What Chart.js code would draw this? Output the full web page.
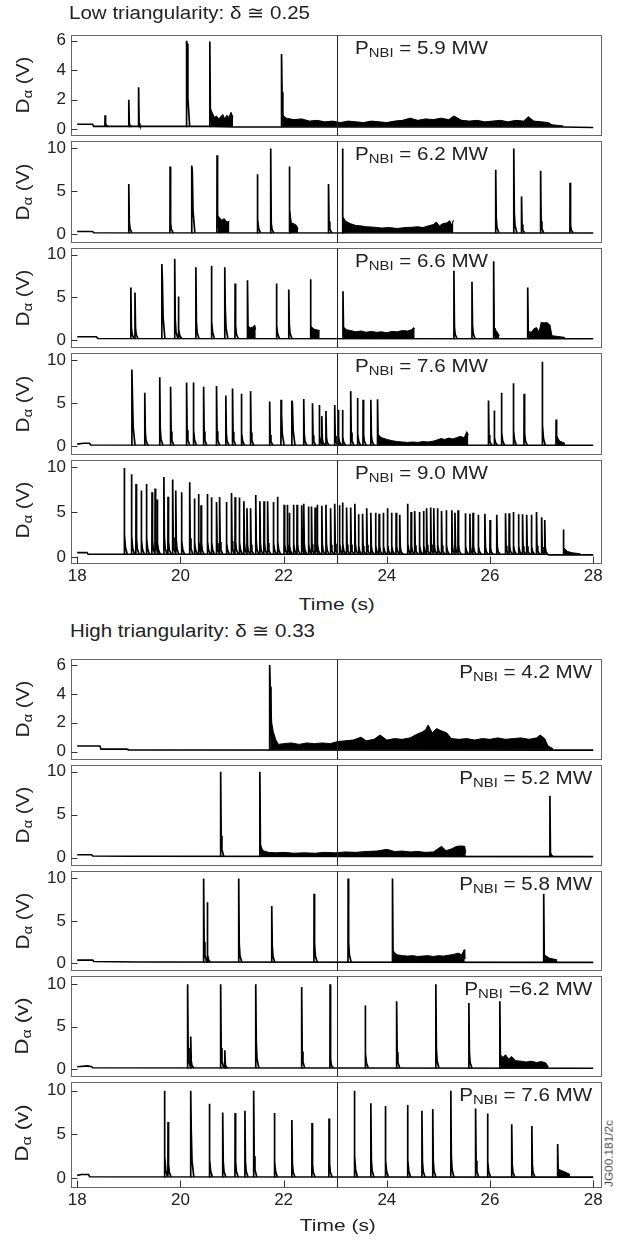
<!DOCTYPE html>
<html lang="en">
<head>
<meta charset="UTF-8">
<title>D-alpha traces at low and high triangularity</title>
<script src="https://cdn.jsdelivr.net/npm/chart.js"></script>
<style>
  body { margin: 0; background: #fff; }
  #fig { position: relative; width: 617px; height: 1240px; overflow: hidden;
         font-family: "Liberation Sans", Arial, sans-serif; color: #222; }
  #fig canvas { position: absolute; left: 0; }
  .lbl { position: absolute; white-space: nowrap; line-height: 1; }
  .sub { position: relative; }
</style>
</head>
<body>
<div id="fig"></div>
<script>
// ---- axis ticks ----
const xTicks = [18, 20, 22, 24, 26, 28];
const ticksSix = [0, 2, 4, 6];
const ticksTen = [0, 5, 10];
const tMarker = 23.03;   // vertical reference line (s)

// ---- low triangularity ----
// baseline [t, V], spikes [t, peak, tail], grass bursts [t, top]
const base59 = [[18.0, 0.34], [18.3, 0.34], [18.32, 0.19], [20.55, 0.19], [21.03, 0.15], [27.4, 0.15], [28.0, 0.12]];
const spikes59 = [[18.54, 0.95, 0.4], [19.0, 2.0, 0.4], [19.19, 2.85, 0.4], [20.12, 6.0, 5.8], [20.57, 5.95, 1.4], [21.96, 5.1, 2.5]];
const grass59 = [
  [[20.58, 1.4], [20.62, 1.1], [20.66, 0.8], [20.7, 0.9], [20.74, 0.7], [20.78, 0.85], [20.82, 1.0], [20.86, 0.7], [20.9, 0.95], [20.94, 0.8], [20.98, 1.15], [21.02, 0.8]],
  [[21.97, 1.0], [22.05, 0.75], [22.2, 0.65], [22.35, 0.7], [22.5, 0.55], [22.65, 0.6], [22.8, 0.5], [22.95, 0.55], [23.1, 0.45], [23.25, 0.55], [23.4, 0.5], [23.55, 0.45], [23.7, 0.55], [23.85, 0.5], [24.0, 0.45], [24.15, 0.55], [24.3, 0.6], [24.45, 0.75], [24.6, 0.6], [24.75, 0.7], [24.9, 0.65], [25.05, 0.75], [25.2, 0.65], [25.3, 0.9], [25.45, 0.6], [25.6, 0.55], [25.75, 0.6], [25.9, 0.5], [26.05, 0.55], [26.2, 0.6], [26.35, 0.5], [26.5, 0.6], [26.65, 0.55], [26.74, 0.85], [26.85, 0.55], [27.0, 0.5], [27.13, 0.45], [27.2, 0.3], [27.42, 0.22]]
];

const base62 = [[18.0, 0.3], [18.3, 0.3], [18.32, 0.15], [28.0, 0.12]];
const spikes62 = [[19.0, 5.85], [19.8, 7.9, 1.3], [20.22, 8.0, 7.4], [20.71, 9.2, 2.2], [21.49, 7.0], [21.75, 10.0, 1.3], [22.11, 7.9, 2.7], [22.87, 5.85], [23.14, 10.0, 2.0], [26.11, 7.5], [26.46, 10.0], [26.61, 4.4], [26.98, 7.4, 1.5], [27.55, 6.0, 1.0]];
const grass62 = [
  [[20.72, 2.2], [20.76, 1.9], [20.8, 1.6], [20.85, 1.8], [20.9, 1.4], [20.95, 1.5]],
  [[22.12, 2.7], [22.15, 1.3], [22.2, 1.2], [22.25, 1.0], [22.28, 0.6]],
  [[23.15, 2.0], [23.2, 1.5], [23.3, 1.2], [23.4, 1.0], [23.5, 0.95], [23.6, 0.85], [23.75, 0.8], [23.9, 0.7], [24.05, 0.75], [24.2, 0.65], [24.35, 0.75], [24.5, 0.8], [24.6, 0.85], [24.7, 0.75], [24.8, 0.95], [24.9, 1.1], [24.96, 1.4], [25.02, 0.95], [25.08, 1.2], [25.16, 1.3], [25.22, 1.55], [25.26, 1.0], [25.29, 1.65]]
];

const base66 = [[18.0, 0.37], [18.37, 0.37], [18.4, 0.18], [28.0, 0.15]];
const spikes66 = [[19.04, 6.15], [19.12, 5.55], [19.64, 8.9, 7.2], [19.89, 9.5], [19.96, 5.1], [20.3, 8.5], [20.6, 8.7], [20.86, 8.5, 3.6], [21.06, 6.6], [21.3, 7.0, 1.6], [21.86, 6.6], [22.1, 5.9, 1.9], [22.52, 7.1, 1.6], [23.15, 5.7, 1.3], [25.3, 8.1, 1.5], [25.65, 6.8], [26.07, 9.2, 1.4], [26.73, 6.15, 1.0]];
const grass66 = [
  [[21.31, 1.6], [21.35, 1.4], [21.4, 1.5], [21.44, 1.75], [21.46, 1.2]],
  [[22.53, 1.6], [22.58, 1.3], [22.63, 1.2], [22.7, 1.1]],
  [[23.16, 1.5], [23.22, 1.2], [23.3, 1.1], [23.4, 0.95], [23.5, 1.05], [23.6, 0.9], [23.7, 1.0], [23.8, 0.9], [23.9, 0.95], [24.0, 0.85], [24.1, 1.0], [24.2, 0.95], [24.3, 1.1], [24.4, 1.05], [24.48, 1.2], [24.52, 1.45], [24.54, 1.3]],
  [[26.08, 1.4], [26.13, 1.0], [26.18, 0.5]],
  [[26.74, 1.0], [26.8, 0.9], [26.85, 1.3], [26.9, 1.45], [26.95, 0.9], [26.99, 2.05], [27.05, 2.0], [27.1, 2.05], [27.16, 1.75], [27.2, 0.5], [27.45, 0.3]]
];

const base76 = [[18.0, 0.25], [18.12, 0.36], [18.24, 0.36], [18.26, 0.15], [28.0, 0.12]];
const spikes76 = [[19.06, 8.9, 6.1], [19.31, 6.2], [19.6, 8.0], [19.81, 6.9], [20.12, 7.4], [20.25, 7.4], [20.45, 6.9], [20.7, 7.0], [20.88, 5.9], [21.01, 6.7], [21.18, 6.1], [21.36, 6.4], [21.73, 5.2], [21.95, 5.4, 3.7], [22.16, 5.3, 5.0], [22.39, 5.5], [22.56, 5.0], [22.69, 4.8], [22.74, 3.5], [22.82, 4.1], [22.99, 4.8], [23.06, 4.25], [23.14, 4.2], [23.3, 6.4], [23.43, 5.6], [23.54, 5.4], [23.69, 5.4], [23.82, 5.45, 1.3], [25.97, 5.3], [26.08, 4.15], [26.22, 6.2], [26.45, 7.3], [26.66, 6.1], [27.01, 9.8], [27.28, 3.1, 1.2]];
const grass76 = [
  [[23.83, 1.3], [23.9, 1.0], [24.0, 0.8], [24.1, 0.65], [24.2, 0.55], [24.3, 0.5], [24.4, 0.45], [24.5, 0.5], [24.6, 0.45], [24.7, 0.55], [24.8, 0.5], [24.9, 0.6], [24.98, 0.75], [25.05, 0.9], [25.12, 0.8], [25.2, 0.95], [25.28, 0.85], [25.35, 1.0], [25.42, 1.15], [25.5, 1.0], [25.55, 1.7], [25.58, 1.3]],
  [[27.29, 1.2], [27.35, 0.6], [27.45, 0.35]]
];

const base90 = [[18.0, 0.47], [18.19, 0.47], [18.21, 0.3], [27.1, 0.3], [27.15, 0.22], [28.0, 0.22]];
const spikes90 = [[18.91, 9.9], [19.05, 9.2], [19.14, 8.1], [19.24, 7.4], [19.34, 8.1], [19.45, 7.2], [19.51, 7.6], [19.55, 6.4], [19.68, 8.9], [19.76, 6.7], [19.85, 8.6], [19.91, 7.4], [20.02, 7.2], [20.18, 8.3], [20.27, 6.5], [20.35, 7.0], [20.4, 5.75], [20.52, 7.0], [20.6, 6.65], [20.7, 6.1], [20.76, 6.65], [20.89, 6.1], [20.99, 7.1], [21.06, 6.65], [21.14, 6.6], [21.23, 6.2], [21.29, 5.4], [21.36, 5.4], [21.46, 6.9], [21.54, 6.2], [21.62, 6.2], [21.69, 6.2], [21.8, 6.1], [21.88, 6.7], [22.01, 5.8], [22.07, 5.8], [22.11, 4.9], [22.19, 5.8], [22.26, 5.8], [22.35, 5.75], [22.39, 5.9], [22.48, 5.6], [22.54, 5.6], [22.61, 5.5], [22.65, 5.8], [22.74, 5.7], [22.82, 5.8], [22.91, 5.4], [22.99, 5.9], [23.08, 5.75], [23.14, 6.05], [23.22, 5.5], [23.3, 5.5], [23.38, 5.9], [23.45, 4.75], [23.53, 4.8], [23.61, 5.4], [23.69, 4.9], [23.78, 4.9], [23.85, 4.8], [23.93, 4.9], [24.01, 5.4], [24.09, 4.9], [24.18, 4.9], [24.25, 4.7], [24.4, 5.9], [24.47, 5.0], [24.54, 5.1], [24.63, 5.0], [24.71, 5.1], [24.77, 5.4], [24.85, 5.5], [24.91, 5.4], [24.98, 5.4], [25.06, 5.1], [25.15, 5.2], [25.26, 5.2], [25.32, 4.9], [25.38, 5.2], [25.52, 4.85], [25.61, 4.8], [25.67, 4.9], [25.77, 4.7], [25.9, 4.8], [26.0, 4.1], [26.13, 4.7], [26.3, 4.85], [26.37, 4.85], [26.45, 5.0], [26.55, 4.75], [26.63, 4.75], [26.71, 4.7], [26.8, 4.7], [26.9, 5.0], [27.0, 4.4], [27.06, 4.1], [27.42, 3.05, 1.0]];
const grass90 = [
  [[27.43, 1.0], [27.5, 0.6], [27.6, 0.45], [27.75, 0.35]]
];

// ---- high triangularity ----
const baseH42 = [[18.0, 0.39], [18.44, 0.39], [18.46, 0.17], [18.96, 0.17], [19.0, 0.12], [28.0, 0.1]];
const spikesH42 = [[21.73, 6.0, 4.5]];
const grassH42 = [
  [[21.74, 4.5], [21.77, 2.0], [21.8, 1.37], [21.85, 0.8], [21.9, 0.5], [22.0, 0.55], [22.15, 0.6], [22.3, 0.5], [22.45, 0.6], [22.6, 0.55], [22.75, 0.6], [22.9, 0.55], [23.05, 0.7], [23.2, 0.75], [23.35, 0.8], [23.5, 1.0], [23.6, 0.75], [23.75, 0.85], [23.87, 1.15], [24.0, 0.8], [24.15, 0.9], [24.3, 0.85], [24.45, 0.95], [24.58, 1.2], [24.68, 1.35], [24.75, 1.5], [24.8, 1.85], [24.88, 1.3], [24.96, 1.6], [25.05, 1.45], [25.16, 1.3], [25.25, 0.9], [25.4, 0.85], [25.55, 0.9], [25.7, 0.8], [25.85, 0.9], [26.0, 0.85], [26.15, 0.95], [26.3, 0.85], [26.45, 0.9], [26.6, 0.95], [26.75, 0.85], [26.9, 0.95], [26.97, 1.15], [27.06, 0.9], [27.12, 0.4], [27.22, 0.2]]
];

const baseH52 = [[18.0, 0.33], [18.28, 0.33], [18.3, 0.18], [19.0, 0.15], [28.0, 0.1]];
const spikesH52 = [[20.78, 10.0], [21.54, 10.0, 1.5], [27.16, 7.2, 0.6]];
const grassH52 = [
  [[21.55, 1.5], [21.6, 0.8], [21.7, 0.6], [21.85, 0.55], [22.0, 0.6], [22.2, 0.5], [22.4, 0.55], [22.6, 0.5], [22.8, 0.6], [23.0, 0.55], [23.2, 0.65], [23.4, 0.6], [23.6, 0.7], [23.8, 0.75], [24.0, 0.95], [24.15, 0.7], [24.3, 0.75], [24.45, 0.65], [24.6, 0.7], [24.75, 0.6], [24.9, 0.65], [25.06, 1.3], [25.15, 0.8], [25.25, 1.0], [25.35, 1.3], [25.45, 1.35], [25.51, 1.3], [25.53, 0.5]]
];

const baseH58 = [[18.0, 0.37], [18.3, 0.37], [18.32, 0.2], [19.2, 0.15], [28.0, 0.1]];
const spikesH58 = [[20.45, 10.0], [20.52, 7.2, 1.0], [21.13, 10.0, 2.3], [21.77, 6.75, 2.0], [22.59, 8.2, 2.3], [23.25, 10.0], [24.11, 10.0, 1.4], [27.04, 8.2, 1.0]];
const grassH58 = [
  [[24.12, 1.4], [24.2, 1.0], [24.3, 0.9], [24.4, 0.85], [24.5, 0.9], [24.6, 0.8], [24.7, 0.85], [24.8, 0.9], [24.9, 0.8], [25.0, 0.9], [25.1, 0.85], [25.2, 0.95], [25.3, 1.05], [25.38, 1.2], [25.45, 1.0], [25.5, 1.6], [25.51, 0.5]],
  [[27.05, 1.0], [27.15, 0.6], [27.3, 0.4]]
];

const baseH62 = [[18.0, 0.3], [18.2, 0.4], [18.28, 0.3], [18.3, 0.18], [28.0, 0.12]];
const spikesH62 = [[20.14, 10.0], [20.2, 3.85], [20.78, 10.0], [20.86, 2.25], [21.46, 10.0, 3.25], [22.35, 9.7, 2.1], [22.9, 10.0, 1.2], [23.58, 7.5], [24.19, 8.0], [24.95, 10.0], [25.59, 7.8], [26.19, 8.0, 1.7]];
const grassH62 = [
  [[26.2, 1.7], [26.25, 1.4], [26.3, 1.7], [26.36, 1.2], [26.42, 1.5], [26.5, 1.0], [26.6, 0.95], [26.7, 0.85], [26.8, 0.95], [26.9, 0.8], [27.0, 0.9], [27.08, 0.75], [27.13, 0.3]]
];

const baseH76 = [[18.0, 0.3], [18.08, 0.4], [18.22, 0.4], [18.24, 0.15], [28.0, 0.1]];
const spikesH76 = [[19.69, 10.0], [19.76, 6.4], [20.2, 10.0, 5.5], [20.56, 8.5], [20.82, 7.5], [21.06, 7.45], [21.25, 7.7], [21.42, 10.0], [21.82, 7.45], [22.16, 6.65], [22.55, 6.3], [22.88, 6.8], [23.37, 10.0], [23.69, 8.55], [23.97, 8.25], [24.4, 8.35], [24.68, 7.7], [24.89, 7.9], [25.24, 10.0], [25.72, 7.95], [25.95, 7.4], [26.42, 6.15], [26.81, 5.95], [27.31, 3.9, 1.0]];
const grassH76 = [
  [[27.32, 1.0], [27.45, 0.7], [27.55, 0.4]]
];

// ---- panel layout (page pixels of each plot frame) ----
const panels = [
  { top: 32, bottom: 138, yMin: -0.38, yMax: 6.38, ticks: ticksSix, base: base59, spikes: spikes59, grass: grass59, floor: 0.17, power: '5.9', unit: 'V', tag: 'left' },
  { top: 138, bottom: 245, yMin: -0.91, yMax: 10.85, ticks: ticksTen, base: base62, spikes: spikes62, grass: grass62, floor: 0.14, power: '6.2', unit: 'V', tag: 'left' },
  { top: 245, bottom: 350, yMin: -0.80, yMax: 10.74, ticks: ticksTen, base: base66, spikes: spikes66, grass: grass66, floor: 0.17, power: '6.6', unit: 'V', tag: 'left' },
  { top: 350, bottom: 457, yMin: -0.87, yMax: 10.8, ticks: ticksTen, base: base76, spikes: spikes76, grass: grass76, floor: 0.14, power: '7.6', unit: 'V', tag: 'left' },
  { top: 457, bottom: 563, yMin: -0.68, yMax: 10.76, ticks: ticksTen, base: base90, spikes: spikes90, grass: grass90, floor: 0.3, power: '9.0', unit: 'V', tag: 'left', xAxis: true },
  { top: 656, bottom: 762, yMin: -0.50, yMax: 6.41, ticks: ticksSix, base: baseH42, spikes: spikesH42, grass: grassH42, floor: 0.12, power: '4.2', unit: 'V', tag: 'right' },
  { top: 762, bottom: 868, yMin: -0.85, yMax: 10.77, ticks: ticksTen, base: baseH52, spikes: spikesH52, grass: grassH52, floor: 0.12, power: '5.2', unit: 'V', tag: 'right' },
  { top: 868, bottom: 973, yMin: -0.77, yMax: 10.85, ticks: ticksTen, base: baseH58, spikes: spikesH58, grass: grassH58, floor: 0.12, power: '5.8', unit: 'V', tag: 'right' },
  { top: 973, bottom: 1079, yMin: -0.77, yMax: 10.96, ticks: ticksTen, base: baseH62, spikes: spikesH62, grass: grassH62, floor: 0.14, power: '6.2', unit: 'v', tag: 'right', tight: true },
  { top: 1079, bottom: 1187, yMin: -1.03, yMax: 10.97, ticks: ticksTen, base: baseH76, spikes: spikesH76, grass: grassH76, floor: 0.12, power: '7.6', unit: 'v', tag: 'right', xAxis: true }
];

const fig = document.getElementById('fig');
const tickFont = { family: '"Liberation Sans", Arial, sans-serif', size: 17 };

// frame, inward ticks and the marker line, all placed with the chart scales
const framePlugin = {
  id: 'panelFrame',
  afterDatasetsDraw(chart, args, opts) {
    const { ctx, chartArea: a, scales: { x, y } } = chart;
    const L = Math.round(a.left) + 0.5, R = Math.round(a.right) + 0.5;
    const T = Math.round(a.top) + 0.5, B = Math.round(a.bottom) + 0.5;
    ctx.save();
    ctx.strokeStyle = '#666';
    ctx.lineWidth = 1;
    ctx.strokeRect(L, T, R - L, B - T);
    ctx.strokeStyle = '#333';
    ctx.beginPath();
    opts.yTicks.forEach(v => {
      const py = Math.round(y.getPixelForValue(v)) + 0.5;
      ctx.moveTo(L, py); ctx.lineTo(L + 6, py);
    });
    if (opts.xAxis) {
      xTicks.forEach(v => {
        const px = Math.round(x.getPixelForValue(v)) + 0.5;
        ctx.moveTo(px, B); ctx.lineTo(px, B - 7);
      });
    }
    ctx.stroke();
    const mx = Math.round(x.getPixelForValue(tMarker)) + 0.5;
    ctx.strokeStyle = '#222';
    ctx.beginPath();
    ctx.moveTo(mx, T); ctx.lineTo(mx, B);
    ctx.stroke();
    ctx.restore();
  }
};

// each ELM: sharp rise, fast drop to its tail level, then a short decay
function spikePoints(spikes, floor) {
  const pts = [];
  spikes.forEach(([t, peak, tail]) => {
    const tl = tail !== undefined ? tail : peak * 0.25;
    pts.push({ x: t - 0.003, y: floor }, { x: t, y: peak },
             { x: t + 0.01, y: tl },
             { x: t + 0.025, y: floor + (tl - floor) * 0.35 },
             { x: t + 0.06, y: floor }, { x: t + 0.061, y: null });
  });
  return pts;
}

panels.forEach(p => {
  const padTop = 12, padBottom = p.xAxis ? 30 : 12;
  const canvas = document.createElement('canvas');
  canvas.width = 617;
  canvas.height = (p.bottom - p.top) + padTop + padBottom;
  canvas.style.top = (p.top - padTop) + 'px';
  fig.appendChild(canvas);

  const datasets = p.grass.map(seg => ({
    data: seg.map(([x, y]) => ({ x, y })),
    borderColor: '#000', backgroundColor: '#000', borderWidth: 1,
    fill: { value: p.floor }
  }));
  datasets.push({
    data: p.base.map(([x, y]) => ({ x, y })),
    borderColor: '#000', borderWidth: 1.6, fill: false
  });
  datasets.push({
    data: spikePoints(p.spikes, p.floor),
    borderColor: '#000', borderWidth: 1.7, fill: false, spanGaps: false
  });

  new Chart(canvas, {
    type: 'line',
    data: { datasets },
    options: {
      responsive: false,
      animation: false,
      events: [],
      layout: { padding: { top: padTop, right: 16, bottom: p.xAxis ? 0 : padBottom, left: 0 } },
      elements: { point: { radius: 0 }, line: { tension: 0 } },
      plugins: {
        legend: { display: false },
        tooltip: { enabled: false },
        panelFrame: { yTicks: p.ticks, xAxis: !!p.xAxis }
      },
      scales: {
        x: {
          type: 'linear', min: 17.88, max: 28.15,
          display: !!p.xAxis,
          grid: { display: false, drawTicks: false },
          border: { display: false },
          ticks: { font: tickFont, color: '#222', padding: 3, maxRotation: 0, autoSkip: false },
          afterBuildTicks: s => { s.ticks = xTicks.map(v => ({ value: v })); },
          afterFit: s => { if (p.xAxis) s.height = padBottom; }
        },
        y: {
          min: p.yMin, max: p.yMax,
          grid: { display: false, drawTicks: false },
          border: { display: false },
          ticks: { font: tickFont, color: '#222', padding: 5 },
          afterBuildTicks: s => { s.ticks = p.ticks.map(v => ({ value: v })); },
          afterFit: s => { s.width = 71; }
        }
      }
    },
    plugins: [framePlugin]
  });
});

// ---- text labels (stretched to the widths measured on the figure) ----
function addLabel(html, o) {
  const el = document.createElement('div');
  el.className = 'lbl';
  el.innerHTML = html;
  el.style.fontSize = o.size + 'px';
  if (o.color) el.style.color = o.color;
  fig.appendChild(el);
  const w = el.getBoundingClientRect().width;
  const s = o.width ? o.width / w : 1;
  if (o.rotate) {
    el.style.left = (o.cx - w / 2) + 'px';
    el.style.top = (o.cy - o.size / 2) + 'px';
    el.style.transformOrigin = 'center';
    el.style.transform = `rotate(-90deg) scaleX(${s})`;
    return;
  }
  el.style.top = (o.baseline - 0.85 * o.size) + 'px';
  if (o.anchor === 'right') {
    el.style.left = (o.x - w) + 'px';
    el.style.transformOrigin = 'right center';
  } else if (o.anchor === 'center') {
    el.style.left = (o.x - w / 2) + 'px';
    el.style.transformOrigin = 'center';
  } else {
    el.style.left = o.x + 'px';
    el.style.transformOrigin = 'left center';
  }
  el.style.transform = `scaleX(${s})`;
}

addLabel('Low triangularity: δ ≅ 0.25', { x: 69, baseline: 19.5, size: 18, width: 241 });
addLabel('High triangularity: δ ≅ 0.33', { x: 70, baseline: 637, size: 18, width: 245 });
addLabel('Time (s)', { x: 337, baseline: 610, size: 17, width: 76, anchor: 'center' });
addLabel('Time (s)', { x: 337.5, baseline: 1231, size: 17, width: 76, anchor: 'center' });
addLabel('JG00.181/2c', { rotate: true, cx: 609.5, cy: 1153, size: 11, width: 67, color: '#444' });

const subNBI = '<span class="sub" style="font-size:13px;top:3px">NBI</span>';
panels.forEach(p => {
  addLabel('D<span class="sub" style="font-size:13px;top:3px">α</span> (' + p.unit + ')',
    { rotate: true, cx: 22.3, cy: (p.top + p.bottom) / 2, size: 18, width: 57 });
  const eq = p.tight ? ' =' : ' = ';
  const text = 'P' + subNBI + eq + p.power + ' MW';
  if (p.tag === 'left') {
    addLabel(text, { x: 355, baseline: p.top + 22.5, size: 18, width: 133 });
  } else {
    addLabel(text, { x: 592, baseline: p.top + 22.2, size: 18, width: p.tight ? 128 : 133, anchor: 'right' });
  }
});
</script>
</body>
</html>
